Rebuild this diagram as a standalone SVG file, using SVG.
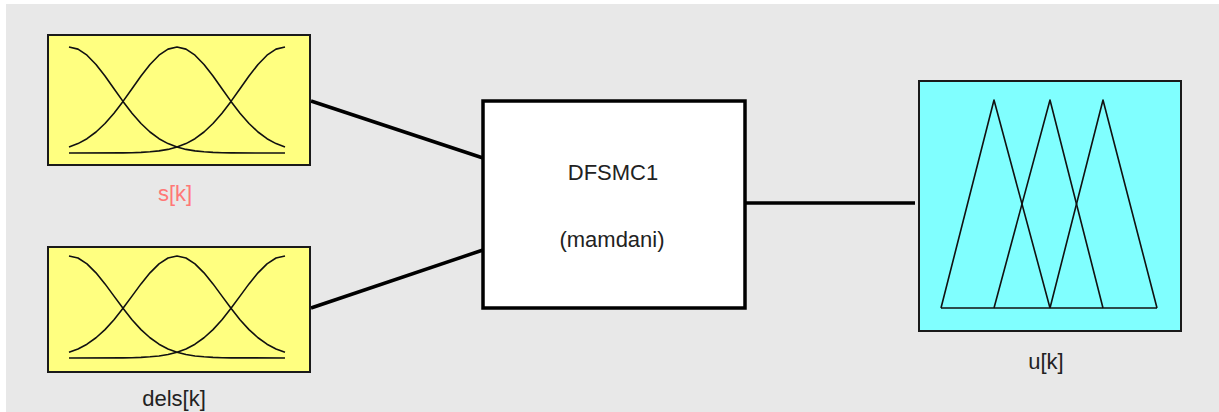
<svg xmlns="http://www.w3.org/2000/svg" width="1219" height="412" viewBox="0 0 1219 412">
<style>
.in{fill:#ffff80;stroke:#1a1a1a;stroke-width:2}
.out{fill:#80ffff;stroke:#1a1a1a;stroke-width:2}
.sys{fill:#ffffff;stroke:#000;stroke-width:3.5}
.mf{fill:none;stroke:#111;stroke-width:1.6;vector-effect:non-scaling-stroke;stroke-linejoin:round}
.conn{stroke:#000;stroke-width:3.5;fill:none}
.lbl{font-family:"Liberation Sans",Arial,sans-serif;font-size:22px;fill:#222;text-anchor:middle}
</style>
<defs>
<g id="gauss3">
<path class="mf" d="M0,0 L9,2.1 L18,8.2 L27,17.5 L36,29 L45,41.7 L54,54.4 L63,66.2 L72,76.5 L81,85 L90,91.7 L99,96.6 L108,100 L117,102.4 L126,103.9 L135,104.8 L144,105.4 L153,105.7 L162,105.9 L216,106"/>
<path class="mf" d="M0,100 L9,96.6 L18,91.7 L27,85 L36,76.5 L45,66.2 L54,54.4 L63,41.7 L72,29 L81,17.5 L90,8.2 L99,2.1 L108,0 L117,2.1 L126,8.2 L135,17.5 L144,29 L153,41.7 L162,54.4 L171,66.2 L180,76.5 L189,85 L198,91.7 L207,96.6 L216,100"/>
<path class="mf" d="M0,106 L54,105.9 L63,105.7 L72,105.4 L81,104.8 L90,103.9 L99,102.4 L108,100 L117,96.6 L126,91.7 L135,85 L144,76.5 L153,66.2 L162,54.4 L171,41.7 L180,29 L189,17.5 L198,8.2 L207,2.1 L216,0"/>
</g>
</defs>
<rect x="0" y="0" width="1219" height="412" fill="#ffffff"/>
<rect x="6" y="4" width="1213" height="408" fill="#e8e8e8"/>
<g id="connectors">
<line class="conn" x1="311" y1="101" x2="483" y2="158"/>
<line class="conn" x1="311" y1="308" x2="483" y2="250"/>
<line class="conn" x1="745" y1="203" x2="915" y2="203"/>
</g>
<g id="input-s">
<rect class="in" x="48" y="35" width="262" height="130"/>
<use href="#gauss3" transform="translate(69,47)"/>
<text class="lbl" x="175" y="201" style="fill:#f77">s[k]</text>
</g>
<g id="input-dels">
<rect class="in" x="48" y="247" width="262" height="125"/>
<use href="#gauss3" transform="translate(69,256) scale(1,0.962)"/>
<text class="lbl" x="174" y="406">dels[k]</text>
</g>
<g id="system">
<rect class="sys" x="483" y="101" width="262" height="207"/>
<text class="lbl" x="613" y="180">DFSMC1</text>
<text class="lbl" x="612" y="247">(mamdani)</text>
</g>
<g id="output-u">
<rect class="out" x="919" y="81" width="262" height="250"/>
<g fill="none" stroke="#111" stroke-width="1.6" stroke-linejoin="round">
<polyline points="941,308 994,100 1050,308"/>
<polyline points="994,308 1050,100 1103,308"/>
<polyline points="1050,308 1103,100 1157,308"/>
<line x1="941" y1="308" x2="1157" y2="308"/>
</g>
<text class="lbl" x="1046" y="369">u[k]</text>
</g>
</svg>
